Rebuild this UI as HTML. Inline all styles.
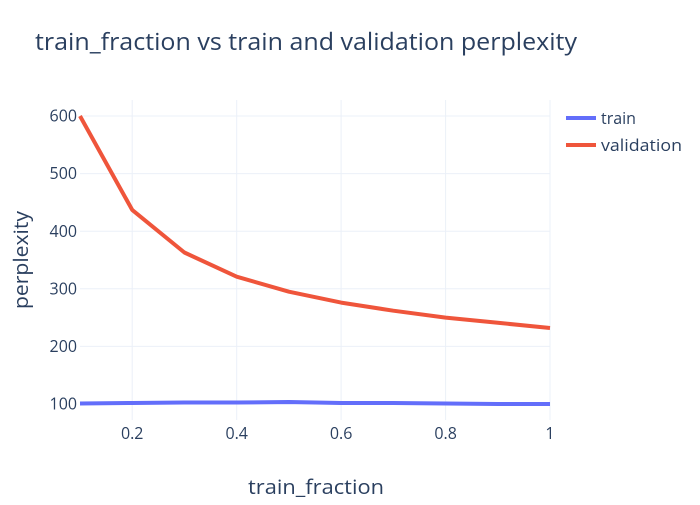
<!DOCTYPE html>
<html><head><meta charset="utf-8"><style>
body{margin:0;background:#fff}
text{font-family:"Open Sans","Liberation Sans",sans-serif;fill:#2a3f5f}
</style></head><body>
<svg width="700" height="500" xmlns="http://www.w3.org/2000/svg">
<rect width="700" height="500" fill="#fff"/>
<g stroke="#ebf0f8" stroke-width="1">
<line x1="132.2" y1="100" x2="132.2" y2="420"/>
<line x1="236.7" y1="100" x2="236.7" y2="420"/>
<line x1="341.1" y1="100" x2="341.1" y2="420"/>
<line x1="445.6" y1="100" x2="445.6" y2="420"/>
<line x1="550" y1="100" x2="550" y2="420"/>
<line x1="80" y1="404" x2="550" y2="404"/>
<line x1="80" y1="346.4" x2="550" y2="346.4"/>
<line x1="80" y1="288.8" x2="550" y2="288.8"/>
<line x1="80" y1="231.2" x2="550" y2="231.2"/>
<line x1="80" y1="173.6" x2="550" y2="173.6"/>
<line x1="80" y1="116" x2="550" y2="116"/>
</g>
<polyline fill="none" stroke="#636efa" stroke-width="4" stroke-linejoin="round" points="80,403.5 132.2,403 184.4,402.5 236.7,402.5 288.9,402 341.1,403 393.3,403 445.6,403.5 497.8,404 550,404"/>
<polyline fill="none" stroke="#ef553b" stroke-width="4" stroke-linejoin="round" points="80,116 132.2,209.9 184.4,252.5 236.7,276.7 288.9,291.7 341.1,302.6 393.3,310.7 445.6,317.6 497.8,322.8 550,328"/>
<g font-size="16" text-anchor="middle">
<text x="132.2" y="439">0.2</text><text x="236.7" y="439">0.4</text><text x="341.1" y="439">0.6</text><text x="445.6" y="439">0.8</text><text x="550" y="439">1</text>
</g>
<g font-size="16" text-anchor="end">
<text x="77" y="409.5">100</text><text x="77" y="352">200</text><text x="77" y="294.5">300</text><text x="77" y="237">400</text><text x="77" y="179">500</text><text x="77" y="121.5">600</text>
</g>
<text x="35" y="50" font-size="24" textLength="542" lengthAdjust="spacingAndGlyphs">train_fraction vs train and validation perplexity</text>
<text x="248" y="494" font-size="20" textLength="136" lengthAdjust="spacingAndGlyphs">train_fraction</text>
<text transform="translate(28,260) rotate(-90)" font-size="20" text-anchor="middle" textLength="98" lengthAdjust="spacingAndGlyphs">perplexity</text>
<line x1="566" y1="118" x2="596" y2="118" stroke="#636efa" stroke-width="4"/>
<text x="601" y="124" font-size="16">train</text>
<line x1="566" y1="145" x2="596" y2="145" stroke="#ef553b" stroke-width="4"/>
<text x="601" y="151" font-size="16" textLength="81" lengthAdjust="spacingAndGlyphs">validation</text>
</svg>
</body></html>
